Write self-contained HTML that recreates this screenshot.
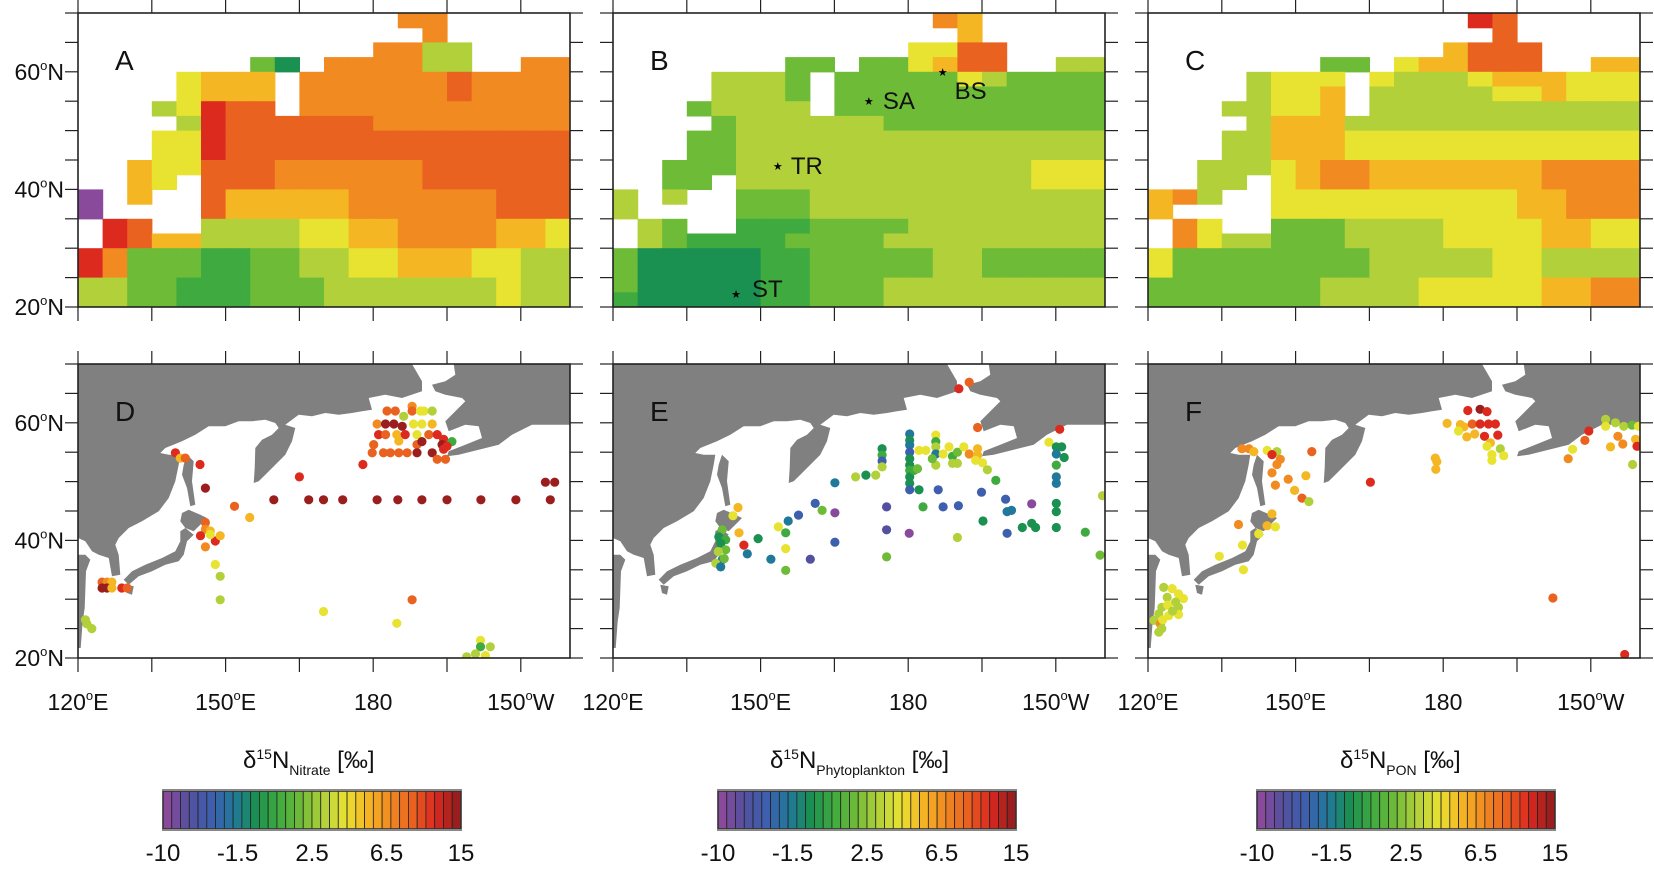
<!DOCTYPE html>
<html><head><meta charset="utf-8"><style>
html,body{margin:0;padding:0;background:#fff;}
svg{display:block;font-family:"Liberation Sans",Arial,sans-serif;}
</style></head><body>
<svg id="fig" width="1654" height="870" viewBox="0 0 1654 870" xmlns="http://www.w3.org/2000/svg"></svg>
<script>
// ---------- data ----------
const PAL={'0':'#8a4a9c','1':'#52509f','2':'#3d5fae','3':'#20789a','4':'#1a9150','5':'#3faa3f','6':'#6ebb37','7':'#b2d03a','8':'#e8e231','9':'#f5b623','a':'#f08a21','b':'#e9621f','c':'#dd2a1f','d':'#9b1e1f'};
const PALKEYS=['0','1','2','3','4','5','6','7','8','9','a','b','c','d'];
// gridded model fields: rows lat 70->20 in 2.5deg steps, cols lon 120->215 in 5deg steps ('.'=land)
const fieldA=[
".............aa.....",
"..............a.....",
"............aa77....",
".......64.aaaa77..aa",
"....8999.aaaaaabaaaa",
"....8999.aaaaaabaaaa",
"...78cbb.aaaaaaaaaaa",
"....7cbbbbbbaaaaaaaa",
"...88cbbbbbbbbbbbbbb",
"...88cbbbbbbbbbbbbbb",
"..988bbbaaaaaabbbbbb",
"..98.bbbaaaaaabbbbbb",
"0.9..b99999aaaaaabbb",
"0....b99999aaaaaabbb",
".cb..77778899aaaa998",
".cb9977778899aaaa998",
"ca666556677889998877",
"ca666556677889998877",
"77665556667777777877",
"77665556667777777877"];
const fieldB=[
".............a9.....",
"..............9.....",
"............88bb....",
".......66.6689bb..77",
"....7776.66666876666",
"....7776.66666666666",
"...67777.66666666666",
"....6777777666666666",
"...66777777777777777",
"...66777777777777777",
"..666777777777777888",
"..66.777777777777888",
"7.7..666777777777777",
"7....666777777777777",
".76..555666677777777",
".7655556666777777777",
"64444455666667766666",
"64444455666667766666",
"64444455666777777777",
"54444455666777777777"];
const fieldC=[
".............cb.....",
"..............b.....",
"............9bbb....",
".......66.899bbb..99",
"....7888.87778999888",
"....7889.77777889888",
"...77889.77777777777",
"....7999777777777777",
"...77999888888888888",
"...77999888888888888",
"..77789aa9999999aaaa",
"..77.89aa9999999aaaa",
"9a7..888888888899aaa",
"9....888888888899aaa",
".a8..666777788889988",
".a877666777788889988",
"86666666677777887777",
"86666666677777887777",
"666666677778888899aa",
"666666677778888899aa"];
const fields=[fieldA,fieldB,fieldC];

// observation points
const lonD=[159.8,166.9,169.9,173.8,180.8,185,189.9,195,201.9,209,216,215,216.9,139.8,140.8,141.8,144.8,145.9,151.8,154.9,165,177.9,145.9,145.9,146.9,144.9,147.9,148.9,145.9,146.9,147.9,148.9,148.9,169.9,184.8,187.9,124.9,125.9,126.9,124.9,125.9,126.9,128.9,130,121.8,122.8,121.5,201.8,201.8,203.8,200.8,202.8,199,182.8,184.5,186.2,187.9,187.9,189.6,190.3,192,180.8,182.5,184.2,185.9,188.2,189.9,192,180.1,181.1,182.5,184.8,186.5,188.9,191.3,193,194.3,196,185.2,188.9,189.9,194,195,179.8,182.1,183.5,185.2,186.9,188.9,192,194.3,193,194.7];
const latD=[46.9,46.9,46.9,46.9,46.9,46.9,46.9,46.9,46.9,46.9,46.9,49.9,49.9,54.9,54,54,52.9,48.9,45.8,43.9,50.8,52.9,43.05,41.9,41.6,40.8,39.9,40.8,38.9,41,35.9,33.9,29.9,27.9,25.9,29.9,32.9,32.9,32.9,31.9,31.9,31.9,31.9,31.9,25.8,25,26.5,23,21.9,21.9,20.7,20.4,20.2,62,62,61.1,62.8,62,62,62,62,59.8,59.8,59.8,59.4,59.8,59.8,59.8,56.3,58,58,58,58,58,58,58,57.2,56.8,56.9,56.3,56.8,56.3,56,54.9,54.9,54.9,54.9,54.9,54.9,54.9,55.5,53.8,53.8];
const valD=[13,13,13,13,13,13,13,13,13,13,13,13,13,12,9,11,12,13,11,9,12,12,11,10,9,12,12,9,10,8,8,7,7,8,8,11,11,10,9,13,13,9,12,11,7,7,7,8,5,7,7,8,7,11,11,7,10,11,8,8,7,10,13,13,13,8,8,9,11,12,11,9,12,8,11,12,12,5,9,11,13,13,12,11,11,11,11,11,13,13,12,11,11];

const lonE=[190.3,192.4,194.1,210.8,208.6,180.3,180.3,180.3,180.3,180.3,180.3,180.3,180.3,180.3,180.3,181.2,181.9,182.2,185.6,185.6,185.6,185.6,185.6,184.9,183.6,182.2,187.1,188.3,189,190,189,190,191.3,192.4,194.1,194.1,193.7,195.1,196.1,197.8,174.7,174.7,174.7,174.7,173.4,171.4,169.3,165.1,161.1,162.5,165.1,157.7,155.6,153.6,155.1,149.5,155.1,155.1,152.1,160.1,165.1,175.6,175.6,175.6,180.2,183,186.1,187.1,190.2,194.9,195.2,190,199.8,200.1,201,200.1,203.2,205.1,205.9,205.1,210.1,210.1,211.2,211.7,210.1,210.1,210.1,210.1,210.1,210.1,142.2,141.5,142.9,141.9,142.9,141.4,142.2,140.9,141.9,142.6,145.4,144.4,145.6,146.6,147.3,219,216,219.5];
const latE=[65.8,66.9,59.2,58.9,56.7,58.1,57,56.2,55,53.9,52.8,51.9,50.8,49.7,48.6,51.9,52.2,48.6,57.9,56.8,55.9,54.7,52.8,53.9,55.3,55.3,54.7,55.9,54.3,55,53.1,53.1,55.9,54.7,55.6,54.5,53.6,53.2,52,50.2,55.6,54.5,53.5,52.5,51.1,51.1,50.8,49.8,46.3,45.1,44.7,44.3,43.3,42.3,41.3,40.3,38.6,34.9,36.8,36.8,39.7,45.7,41.8,37.2,41.2,45.7,48.6,45.7,45.9,48.2,43.3,40.5,47,44.9,45.1,41.2,42.2,42.9,42.2,46.2,55.9,54.7,55.9,54.1,52.8,50.8,49.7,46.3,44.9,42.2,41.8,40.6,40.1,39.5,38.4,38.1,36.7,36.1,35.5,36.9,45.6,44.2,41.3,39.2,37.7,37.5,41.4,47.6];
const valE=[12,11,11,12,8,3,4,3,2,4,4,5,4,4,2,5,6,4,8,5,7,3,7,6,8,8,8,8,5,6,7,7,8,10,9,9,8,8,7,5,4,5,2,7,7,4,7,3,2,6,0,2,3,8,5,4,8,6,3,1,2,1,1,6,0,5,2,2,2,2,4,7,2,3,3,2,4,4,4,0,4,3,4,4,5,3,3,4,4,4,6,4,5,4,6,7,3,7,3,6,9,8,9,12,3,6,5,7];

const lonF=[139.1,140.5,141.5,144.2,146.2,145.2,146.9,146.2,145.2,145.9,148.5,149.8,151.3,152.7,152.1,153.3,165.2,178.4,178.5,178.7,180.8,185,187.5,188.9,183.5,184.2,185.9,187.5,189.2,190.6,183.1,184.8,186.4,188.4,191.1,189.6,188.9,189.9,189.9,191.6,192.3,209.6,208.8,206.3,205.4,213,213,215,216.7,218.4,219.7,215.5,216.5,214,219.1,219.4,218.5,202.3,216.9,145.2,144.2,145.9,142.5,138.4,139.2,134.5,139.4,123.2,124.9,126.2,127.2,123.9,125.6,122.8,126.2,122.2,124.2,126.2,121.2,122.5,122.8,122.2,124,125,123];
const latF=[55.6,55.6,55.1,55.3,55.1,54.6,53.8,52.9,51.5,49.4,50.4,48.5,47.2,46.6,51,55.1,49.9,54,52.1,53.4,59.9,62.1,62.3,61.9,59.7,59.3,59.8,59.8,59.8,59.8,58.6,57.6,58.1,57.7,57.9,56.6,56,54.6,53.6,55.6,54.4,58.6,57,55.5,53.9,60.6,59.4,60,59.4,59.6,59.4,57.7,56.4,55.9,57.2,56,52.9,30.2,20.6,44.5,42.5,42.3,41.1,42.7,39.2,37.3,35,32,31.8,30.9,30.1,30.3,29.5,28.6,28.6,27.5,27.2,27.4,26.4,25.8,25,24.4,29,28,26.5];
const valF=[10,10,9,8,7,12,10,10,10,10,10,9,11,7,9,11,12,9,9,9,9,12,13,12,9,9,11,12,12,12,8,9,9,12,12,9,8,8,8,7,8,12,11,8,10,7,8,7,7,6,8,10,10,9,9,12,7,11,12,9,9,8,8,10,8,8,8,7,8,8,8,7,7,7,7,7,8,8,7,10,7,7,8,7,8];
const pointSets=[[lonD,latD,valD],[lonE,latE,valE],[lonF,latF,valF]];

const cbTicks=['-10','-1.5','2.5','6.5','15'];
const latTicks=[60,40,20];
const lonTickLabels=['120°E','150°E','180','150°W'];
const lonTickVals=[120,150,180,210];

// ---------- layout ----------
const NS='http://www.w3.org/2000/svg';
const svg=document.getElementById('fig');
const PX0=[78,613,1148], PW=492, TOP=[13,364], PH=294;
function xOf(p,lon){return PX0[p]+(lon-120)*PW/100;}
function yOf(r,lat){return TOP[r]+(70-lat)*PH/50;}
function mk(tag,attrs,parent){const e=document.createElementNS(NS,tag);for(const k in attrs)e.setAttribute(k,attrs[k]);(parent||svg).appendChild(e);return e;}

const defs=mk('defs',{});
for(let p=0;p<3;p++)for(let r=0;r<2;r++){
  const cp=mk('clipPath',{id:'clip'+p+r},defs);
  mk('rect',{x:PX0[p],y:TOP[r],width:PW,height:PH},cp);
}

// ---------- top fields ----------
const cw=5*PW/100, ch=2.5*PH/50;
for(let p=0;p<3;p++){
  const g=mk('g',{'clip-path':'url(#clip'+p+'0)'});
  
  
  const rows=fields[p];
  for(let j=0;j<rows.length;j++)for(let i=0;i<20;i++){
    const c=rows[j][i];
    if(!c||c==='.')continue;
    const rc=mk('rect',{x:xOf(p,120+5*i).toFixed(2),y:yOf(0,70-2.5*j).toFixed(2),width:(cw+0.6).toFixed(2),height:(ch+0.6).toFixed(2),fill:PAL[c]},g);
    
    
  }
}

// ---------- land for bottom maps (traced outline in 3x-crop units) ----------
const landPolys=[
[[38,28],[1040,28],[1070,80],[1070,110],[1010,130],[960,120],[910,130],[920,165],[890,170],[860,175],[820,180],[780,175],[740,185],[700,180],[680,195],[660,210],[690,220],[680,260],[660,300],[630,330],[600,360],[580,380],[565,385],[568,340],[570,280],[590,255],[620,240],[640,220],[630,205],[600,195],[560,200],[520,200],[480,215],[430,215],[390,240],[350,260],[300,280],[285,295],[310,300],[345,300],[340,330],[330,380],[310,430],[280,470],[230,500],[190,520],[160,550],[150,570],[160,600],[165,660],[140,665],[130,610],[100,600],[80,590],[60,560],[38,550]],
[[38,600],[60,600],[75,615],[62,650],[58,760],[52,800],[46,880],[38,880]],
[[355,330],[365,300],[385,320],[380,380],[390,450],[375,455],[365,400],[350,360]],
[[350,475],[370,465],[405,480],[425,490],[405,510],[385,530],[360,520],[345,500]],
[[360,520],[385,540],[365,560],[355,600],[340,620],[300,630],[260,650],[220,665],[190,690],[175,675],[200,650],[240,630],[290,610],[330,590],[345,560],[345,530]],
[[180,690],[205,695],[200,720],[185,715]],
[[1165,28],[1515,28],[1515,210],[1400,210],[1340,240],[1300,270],[1240,285],[1180,300],[1145,305],[1150,290],[1200,270],[1250,250],[1240,215],[1200,210],[1150,230],[1140,200],[1170,170],[1200,140],[1190,130],[1140,120],[1110,110],[1100,90],[1140,80],[1170,60],[1165,28]]
];
for(let p=0;p<3;p++){
  const g=mk('g',{'clip-path':'url(#clip'+p+'1)'});
  
  
  landPolys.forEach(poly=>{
    const pts=poly.map(q=>(PX0[p]+(q[0]-38)/3).toFixed(1)+','+(TOP[1]+(q[1]-28)/3).toFixed(1)).join(' ');
    const pg=mk('polygon',{points:pts,fill:'#808080'},g);
    
    
  });
  const [lo,la,va]=pointSets[p];
  for(let k=0;k<lo.length;k++){
    const c=mk('circle',{cx:xOf(p,lo[k]).toFixed(1),cy:yOf(1,la[k]).toFixed(1),r:4.6,fill:PAL[PALKEYS[va[k]]]},g);
    
    
  }
}

// ---------- frames, ticks ----------
for(let p=0;p<3;p++)for(let r=0;r<2;r++){
  const x0=PX0[p],y0=TOP[r];
  const fr=mk('rect',{x:x0,y:y0,width:PW,height:PH,fill:'none',stroke:'#222','stroke-width':1.6});
  
  
  const tg=mk('g',{stroke:'#222','stroke-width':1.2});
  
  
  for(let lon=120;lon<=220;lon+=15){
    const x=xOf(p,lon);
    mk('line',{x1:x,y1:y0,x2:x,y2:y0-13},tg);
    mk('line',{x1:x,y1:y0+PH,x2:x,y2:y0+PH+14},tg);
  }
  for(let lat=20;lat<=70;lat+=5){
    const y=yOf(r,lat);
    mk('line',{x1:x0,y1:y,x2:x0-13,y2:y},tg);
    mk('line',{x1:x0+PW,y1:y,x2:x0+PW+13,y2:y},tg);
  }
  const lt=mk('text',{x:x0+37,y:y0+57,'font-size':28,fill:'#111'});
  lt.textContent='ABCDEF'[r*3+p];
  
  
}

// latitude labels
for(let r=0;r<2;r++)latTicks.forEach(lat=>{
  const t=mk('text',{x:64,y:(yOf(r,lat)+8).toFixed(1),'font-size':23,'text-anchor':'end',fill:'#111'});
  t.innerHTML=lat+'<tspan font-size="13" dy="-10">o</tspan><tspan dy="10">N</tspan>';
  
  
});
// longitude labels
for(let p=0;p<3;p++)lonTickVals.forEach((lon,k)=>{
  const s=lonTickLabels[k];
  const t=mk('text',{x:xOf(p,lon).toFixed(1),y:710,'font-size':23,'text-anchor':'middle',fill:'#111'});
  if(s.indexOf('°')>=0){const a=s.split('°');t.innerHTML=a[0]+'<tspan font-size="13" dy="-10">o</tspan><tspan dy="10">'+a[1]+'</tspan>';}
  else t.textContent=s;
  
  
});

// station markers in panel B
const stations=[['SA',172,55],['TR',153.5,44],['BS',187,60],['ST',145,22.2]];
const stOff={SA:[14,8],TR:[13,8],BS:[12,27],ST:[16,3]};
stations.forEach(s=>{
  const x=xOf(1,s[1]),y=yOf(0,s[2]);
  const m=mk('text',{x:x,y:y+4,'font-size':11,'text-anchor':'middle',fill:'#000'});
  m.textContent='★';
  
  
  const t=mk('text',{x:x+stOff[s[0]][0],y:y+stOff[s[0]][1],'font-size':24,fill:'#111'});
  t.textContent=s[0];
  
  
});

// ---------- colorbars ----------
function hex2rgb(h){return [1,3,5].map(i=>parseInt(h.substr(i,2),16));}
const stops=PALKEYS.map(k=>hex2rgb(PAL[k]));
function cbColor(t){const f=t*(stops.length-1),i=Math.min(Math.floor(f),stops.length-2),u=f-i;const c=stops[i].map((v,k)=>Math.round(v+(stops[i+1][k]-v)*u));return 'rgb('+c.join(',')+')';}
const CBX=[163,718,1257], CBW=298, CBY=791, CBH=38, NSEG=34;
const titles=[['Nitrate',243],['Phytoplankton',770],['PON',1340]];
for(let b=0;b<3;b++){
  const g=mk('g',{});
  
  
  for(let i=0;i<NSEG;i++){
    const sw=mk('rect',{x:(CBX[b]+i*CBW/NSEG).toFixed(2),y:CBY,width:(CBW/NSEG).toFixed(2),height:CBH,fill:cbColor(i/(NSEG-1)),stroke:'#222','stroke-width':0.8},g);
    
    
  }
  mk('rect',{x:CBX[b],y:CBY,width:CBW,height:CBH,fill:'none',stroke:'#333','stroke-width':1.6},g);
  mk('line',{x1:CBX[b]-1,y1:CBY-1,x2:CBX[b]+CBW+1,y2:CBY-1,stroke:'#888','stroke-width':2},g);
  mk('line',{x1:CBX[b]-1,y1:CBY+CBH+1,x2:CBX[b]+CBW+1,y2:CBY+CBH+1,stroke:'#888','stroke-width':2},g);
  cbTicks.forEach((s,k)=>{
    const t=mk('text',{x:(CBX[b]+k*CBW/4).toFixed(1),y:861,'font-size':24,'text-anchor':'middle',fill:'#111'});
    t.textContent=s;
    
    
  });
  const tt=mk('text',{x:titles[b][1],y:768,'font-size':24,fill:'#111'});
  tt.innerHTML='δ<tspan font-size="14" dy="-9">15</tspan><tspan dy="9">N</tspan><tspan font-size="14" dy="7">'+titles[b][0]+'</tspan><tspan dy="-7"> [‰]</tspan>';
  
  
}
</script>
</body></html>
